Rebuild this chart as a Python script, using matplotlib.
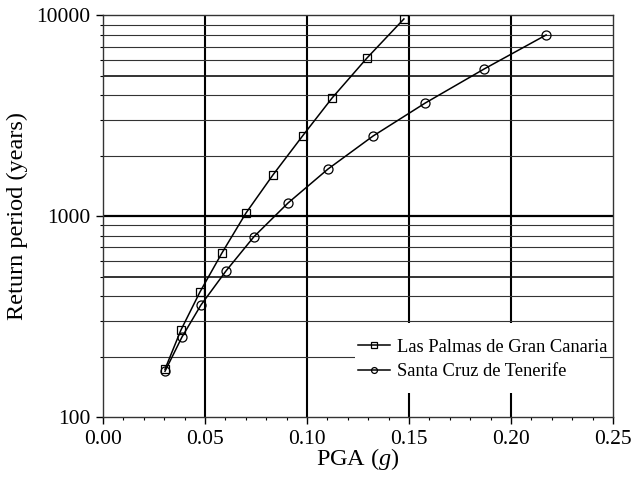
import matplotlib
matplotlib.use("Agg")
import matplotlib.pyplot as plt
import numpy as np
from matplotlib.ticker import FixedLocator, NullFormatter, MultipleLocator
from matplotlib.patches import Rectangle

plt.rcParams['font.family'] = ['Liberation Serif', 'DejaVu Serif']
plt.rcParams['mathtext.fontset'] = 'custom'
plt.rcParams['mathtext.it'] = 'Liberation Serif:italic'
plt.rcParams['mathtext.rm'] = 'Liberation Serif'

# Data
lp_pga = [0.0304, 0.0382, 0.0475, 0.0583, 0.0701, 0.0833, 0.0978, 0.1123, 0.1294, 0.1475]
lp_rp = [173, 271, 419, 656, 1038, 1606, 2510, 3882, 6140, 9610]
sc_pga = [0.0304, 0.0387, 0.0480, 0.0603, 0.0740, 0.0907, 0.1103, 0.1324, 0.1580, 0.1868, 0.2172]
sc_rp = [169, 250, 361, 534, 791, 1164, 1719, 2510, 3666, 5412, 7997]
lp_label = "Las Palmas de Gran Canaria"
sc_label = "Santa Cruz de Tenerife"
x_ticks = [0.00, 0.05, 0.10, 0.15, 0.20, 0.25]
x_ticklabels = ['0.00', '0.05', '0.10', '0.15', '0.20', '0.25']
y_ticks = [100, 1000, 10000]
y_ticklabels = ['100', '1000', '10000']

fig = plt.figure(figsize=(6.31, 4.78), dpi=100)
ax = fig.add_axes([0.1632, 0.1276, 0.9715 - 0.1632, 0.9676 - 0.1276])
ax.set_yscale('log')
ax.set_xlim(0, 0.25)
ax.set_ylim(100, 10000)

# grid lines
for v in x_ticks[1:-1]:
    ax.axvline(v, color='black', lw=1.5, zorder=1)
for dec in [100, 1000]:
    for m in range(2, 10):
        val = dec * m
        lw = 1.2 if m == 5 else 0.8
        col = '#111111' if m == 5 else '#333333'
        ax.axhline(val, color=col, lw=lw, zorder=1)
ax.axhline(1000, color='black', lw=1.6, zorder=1)

# white legend background
ax.add_patch(Rectangle((0.494, 0.060), 0.975 - 0.494, 0.234 - 0.060,
                       transform=ax.transAxes, facecolor='white',
                       edgecolor='none', zorder=2))

ax.plot(lp_pga, lp_rp, color='black', lw=1.1, marker='s', ms=6,
        mfc='none', mec='black', mew=0.9, label=lp_label, zorder=3)
ax.plot(sc_pga, sc_rp, color='black', lw=1.1, marker='o', ms=6.5,
        mfc='none', mec='black', mew=0.9, label=sc_label, zorder=3)

ax.set_xticks(x_ticks)
ax.set_xticklabels(x_ticklabels)
ax.xaxis.set_minor_locator(MultipleLocator(0.01))
ax.yaxis.set_major_locator(FixedLocator(y_ticks))
ax.set_yticklabels(y_ticklabels)
ax.yaxis.set_minor_locator(FixedLocator([m * d for d in [100, 1000] for m in range(2, 10)]))
ax.yaxis.set_minor_formatter(NullFormatter())
ax.tick_params(axis='both', which='major', direction='out', length=5, width=1,
               labelsize=15.5, pad=4, colors='black')
ax.tick_params(axis='both', which='minor', direction='out', length=2.5, width=0.8)

for s in ax.spines.values():
    s.set_linewidth(1.0)
    s.set_color('#333333')

ax.set_xlabel(r'PGA ($g$)', fontsize=17.5, labelpad=-2)
ax.set_ylabel('Return period (years)', fontsize=17.5, labelpad=6)

leg = ax.legend(loc='upper left', bbox_to_anchor=(0.50, 0.195), frameon=False,
                fontsize=13.3, handlelength=1.73, handletextpad=0.38,
                markerscale=0.65, borderpad=0, borderaxespad=0, labelspacing=0.42)
leg.set_zorder(5)

fig.savefig('out.png', dpi=100)
